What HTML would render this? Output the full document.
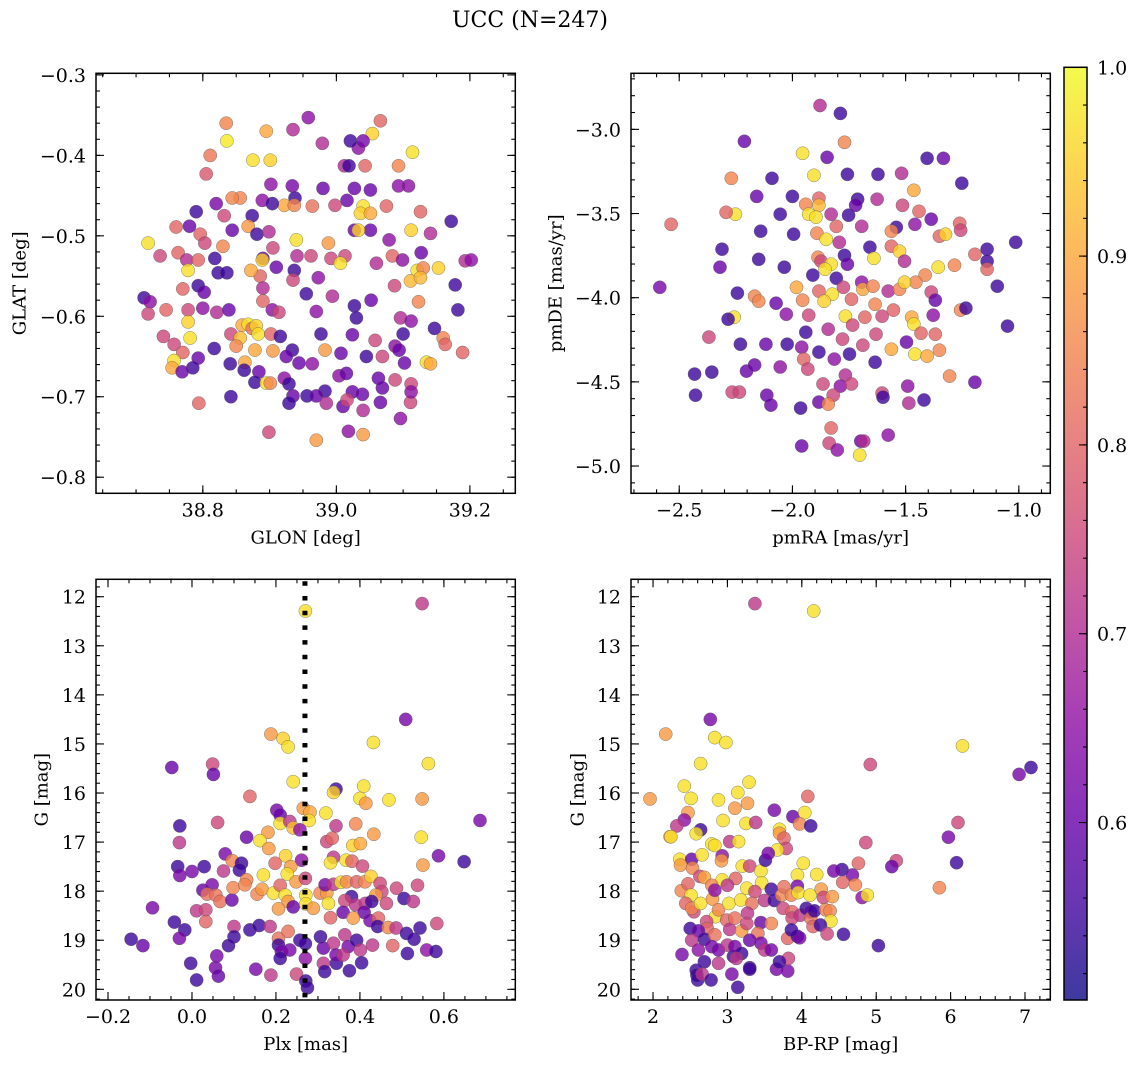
<!DOCTYPE html>
<html><head><meta charset="utf-8"><title>UCC (N=247)</title>
<style>
html,body{margin:0;padding:0;background:#fff;}
svg{display:block;font-family:"DejaVu Serif","Liberation Serif",serif;}
</style></head>
<body>
<svg id="fig" xmlns="http://www.w3.org/2000/svg" width="1136" height="1067" viewBox="0 0 1136 1067">
<rect width="1136" height="1067" fill="#fff"/>
<text x="530" y="27" font-size="22" text-anchor="middle">UCC (N=247)</text>
<defs>
<linearGradient id="cbgrad" x1="0" y1="1" x2="0" y2="0">
<stop offset="0" stop-color="#0d0887"/><stop offset="0.1" stop-color="#41049d"/><stop offset="0.2" stop-color="#6a00a8"/><stop offset="0.3" stop-color="#8f0da4"/><stop offset="0.4" stop-color="#b12a90"/><stop offset="0.5" stop-color="#cc4778"/><stop offset="0.6" stop-color="#e16462"/><stop offset="0.7" stop-color="#f2844b"/><stop offset="0.8" stop-color="#fca636"/><stop offset="0.9" stop-color="#fcce25"/><stop offset="1" stop-color="#f0f921"/>
</linearGradient>
</defs>
<g id="layer"></g>
</svg>
<script>
// ---- data: [x, y, membership probability] ----
const glonGlatProb = [
[38.958,-0.353,.65],[38.835,-0.360,.85],[38.895,-0.370,.9],[39.033,-0.391,.65],[39.066,-0.357,.8],[39.054,-0.373,.95],[39.021,-0.382,.55],[39.040,-0.382,.62],[38.836,-0.382,.98],[38.811,-0.400,.83],
[38.875,-0.406,.97],[38.901,-0.406,.95],[39.114,-0.396,.97],[38.935,-0.368,.7],[38.979,-0.385,.7],[39.012,-0.413,.7],[39.043,-0.413,.8],[39.093,-0.413,.85],[39.019,-0.413,.55],[38.805,-0.423,.78],
[38.902,-0.436,.65],[39.093,-0.438,.65],[39.108,-0.438,.65],[38.934,-0.438,.62],[38.980,-0.441,.6],[38.856,-0.453,.85],[38.844,-0.453,.85],[38.889,-0.456,.65],[38.820,-0.460,.62],[39.016,-0.456,.6],
[39.027,-0.441,.6],[39.051,-0.443,.6],[38.938,-0.453,.55],[38.922,-0.462,.9],[38.937,-0.462,.85],[38.964,-0.463,.82],[38.904,-0.460,.55],[38.998,-0.462,.75],[39.040,-0.463,.97],[39.036,-0.472,.95],
[39.051,-0.472,.9],[39.075,-0.463,.8],[39.126,-0.470,.8],[39.172,-0.482,.55],[38.790,-0.470,.55],[38.780,-0.488,.6],[38.760,-0.489,.8],[38.832,-0.475,.75],[38.874,-0.475,.55],[38.844,-0.493,.6],
[38.868,-0.488,.88],[38.796,-0.498,.8],[38.881,-0.498,.55],[38.899,-0.495,.7],[39.027,-0.493,.6],[39.051,-0.493,.6],[39.033,-0.493,.95],[39.112,-0.493,.95],[39.141,-0.497,.7],[38.718,-0.509,.97],
[38.803,-0.509,.75],[38.830,-0.513,.85],[38.940,-0.505,.97],[38.988,-0.509,.88],[39.079,-0.505,.65],[38.736,-0.525,.75],[38.763,-0.521,.8],[38.776,-0.530,.7],[38.793,-0.530,.8],[38.818,-0.528,.55],
[38.905,-0.515,.75],[38.890,-0.528,.6],[38.941,-0.525,.7],[38.962,-0.525,.75],[39.013,-0.525,.75],[38.992,-0.528,.75],[39.006,-0.534,.97],[39.060,-0.534,.7],[39.084,-0.525,.8],[39.099,-0.530,.65],
[39.127,-0.521,.6],[39.193,-0.531,.7],[38.778,-0.543,.97],[38.823,-0.546,.55],[38.836,-0.546,.55],[38.910,-0.539,.6],[38.937,-0.543,.55],[38.886,-0.550,.8],[38.889,-0.530,.95],[38.872,-0.543,.9],
[39.121,-0.543,.97],[39.130,-0.540,.85],[39.153,-0.540,.95],[39.202,-0.530,.65],[38.712,-0.577,.55],[38.721,-0.582,.65],[38.770,-0.566,.8],[38.793,-0.562,.55],[38.802,-0.570,.6],[38.890,-0.565,.7],
[38.935,-0.555,.75],[38.973,-0.552,.65],[38.955,-0.572,.55],[38.994,-0.575,.7],[39.052,-0.580,.6],[39.087,-0.562,.75],[39.111,-0.556,.92],[39.126,-0.552,.92],[39.178,-0.561,.55],[38.718,-0.597,.75],
[38.745,-0.592,.8],[38.778,-0.592,.75],[38.800,-0.590,.65],[38.821,-0.595,.7],[38.839,-0.592,.6],[38.890,-0.581,.8],[38.904,-0.592,.65],[38.914,-0.595,.75],[38.970,-0.594,.65],[39.123,-0.582,.85],
[39.027,-0.587,.55],[39.030,-0.602,.55],[39.096,-0.602,.7],[39.112,-0.606,.65],[39.147,-0.615,.55],[39.182,-0.592,.55],[38.778,-0.607,.95],[38.859,-0.611,.9],[38.868,-0.610,.97],[38.874,-0.615,.82],
[38.880,-0.612,.95],[38.842,-0.622,.75],[38.856,-0.627,.93],[38.883,-0.622,.97],[38.902,-0.622,.8],[38.916,-0.625,.55],[38.977,-0.622,.55],[39.024,-0.623,.6],[39.100,-0.622,.55],[39.058,-0.630,.75],
[38.741,-0.625,.75],[38.757,-0.635,.75],[38.781,-0.627,.97],[38.817,-0.640,.55],[38.850,-0.637,.85],[38.793,-0.652,.6],[38.785,-0.664,.55],[38.770,-0.645,.8],[38.757,-0.655,.97],[38.754,-0.664,.9],
[38.769,-0.669,.6],[38.878,-0.642,.9],[38.905,-0.643,.88],[38.934,-0.642,.55],[38.983,-0.642,.88],[39.007,-0.646,.6],[39.088,-0.637,.65],[39.094,-0.642,.6],[39.160,-0.627,.85],[39.163,-0.635,.8],
[39.189,-0.645,.8],[38.841,-0.659,.55],[38.863,-0.657,.9],[38.925,-0.650,.6],[38.944,-0.658,.6],[38.964,-0.659,.65],[39.045,-0.650,.55],[39.069,-0.650,.75],[39.102,-0.658,.6],[39.135,-0.657,.97],
[39.141,-0.659,.9],[38.862,-0.667,.55],[38.884,-0.669,.6],[38.922,-0.677,.65],[38.929,-0.684,.55],[38.878,-0.682,.55],[38.895,-0.683,.97],[38.901,-0.683,.85],[39.004,-0.674,.65],[39.015,-0.671,.6],
[39.063,-0.677,.6],[39.088,-0.679,.75],[39.112,-0.684,.75],[38.983,-0.693,.55],[38.935,-0.699,.6],[38.956,-0.699,.55],[38.970,-0.699,.6],[39.024,-0.694,.6],[39.039,-0.697,.6],[39.069,-0.689,.6],
[38.842,-0.700,.55],[38.794,-0.708,.8],[39.066,-0.707,.6],[39.111,-0.707,.75],[39.112,-0.694,.65],[38.985,-0.708,.7],[38.929,-0.708,.55],[39.010,-0.712,.6],[39.016,-0.704,.75],[39.040,-0.717,.7],
[38.899,-0.744,.75],[38.970,-0.754,.88],[39.018,-0.743,.65],[39.040,-0.747,.88],[39.096,-0.727,.65]
];
const pmraPmdeProb = [
[-1.878,-2.858,.7],[-1.788,-2.905,.55],[-1.770,-3.077,.85],[-2.212,-3.071,.6],[-1.955,-3.142,.97],[-1.847,-3.166,.6],[-1.622,-3.267,.55],[-1.757,-3.267,.55],[-1.905,-3.273,.97],[-1.405,-3.172,.55],
[-1.333,-3.172,.6],[-1.518,-3.261,.7],[-2.090,-3.291,.55],[-2.270,-3.291,.85],[-1.252,-3.320,.55],[-1.464,-3.362,.9],[-2.158,-3.398,.6],[-2.000,-3.398,.55],[-1.883,-3.409,.8],[-1.712,-3.415,.55],
[-1.626,-3.415,.7],[-1.941,-3.445,.85],[-1.829,-3.504,.7],[-1.883,-3.451,.92],[-1.514,-3.451,.75],[-1.441,-3.487,.8],[-2.054,-3.504,.55],[-2.252,-3.504,.97],[-2.293,-3.493,.8],[-1.928,-3.504,.97],
[-1.896,-3.522,.97],[-1.752,-3.510,.55],[-1.721,-3.451,.6],[-1.541,-3.582,.55],[-1.387,-3.534,.6],[-2.536,-3.564,.8],[-1.459,-3.564,.65],[-1.261,-3.558,.8],[-1.351,-3.635,.8],[-1.324,-3.623,.95],
[-1.257,-3.599,.75],[-2.140,-3.605,.55],[-1.995,-3.623,.55],[-1.892,-3.617,.85],[-1.806,-3.576,.8],[-1.694,-3.576,.7],[-1.851,-3.653,.97],[-1.793,-3.671,.7],[-1.563,-3.605,.85],[-1.563,-3.694,.8],
[-1.140,-3.712,.55],[-1.014,-3.671,.55],[-2.311,-3.712,.55],[-1.887,-3.760,.85],[-1.770,-3.748,.55],[-1.658,-3.700,.55],[-1.640,-3.766,.97],[-2.149,-3.772,.55],[-1.874,-3.783,.75],[-1.829,-3.801,.97],
[-1.757,-3.801,.6],[-1.527,-3.724,.95],[-1.505,-3.783,.7],[-1.140,-3.783,.55],[-1.194,-3.742,.8],[-2.036,-3.819,.55],[-1.856,-3.831,.97],[-2.320,-3.819,.6],[-1.140,-3.831,.8],[-1.356,-3.819,.97],
[-1.284,-3.807,.85],[-1.910,-3.866,.55],[-1.806,-3.884,.55],[-1.694,-3.908,.65],[-1.414,-3.866,.85],[-1.095,-3.932,.55],[-2.586,-3.938,.62],[-2.243,-3.973,.55],[-2.167,-3.991,.85],[-2.149,-4.021,.85],
[-1.982,-3.938,.9],[-1.883,-3.961,.8],[-1.775,-3.938,.75],[-1.824,-3.979,.97],[-1.689,-3.950,.9],[-1.644,-3.932,.85],[-1.577,-3.961,.7],[-1.527,-3.950,.85],[-1.455,-3.908,.85],[-1.387,-3.967,.75],
[-1.505,-3.908,.95],[-1.369,-4.015,.6],[-2.072,-4.033,.6],[-1.955,-4.015,.85],[-1.860,-4.021,.95],[-1.739,-4.009,.8],[-1.635,-4.039,.85],[-1.257,-4.074,.85],[-1.378,-4.104,.65],[-1.234,-4.062,.55],
[-2.257,-4.116,.97],[-2.284,-4.128,.55],[-2.027,-4.098,.65],[-1.928,-4.104,.75],[-1.766,-4.110,.97],[-1.680,-4.116,.8],[-1.604,-4.110,.75],[-1.554,-4.074,.8],[-1.473,-4.116,.9],[-1.050,-4.169,.55],
[-2.369,-4.234,.75],[-1.941,-4.205,.55],[-1.842,-4.187,.7],[-1.734,-4.163,.75],[-1.631,-4.217,.75],[-1.464,-4.157,.97],[-1.432,-4.211,.8],[-1.369,-4.217,.8],[-2.230,-4.276,.55],[-2.117,-4.276,.6],
[-2.023,-4.276,.55],[-1.959,-4.294,.65],[-1.883,-4.323,.55],[-1.779,-4.246,.75],[-1.689,-4.282,.75],[-1.563,-4.306,.9],[-1.496,-4.264,.6],[-1.351,-4.312,.85],[-1.459,-4.335,.97],[-1.405,-4.347,.9],
[-1.950,-4.365,.8],[-1.815,-4.365,.65],[-1.748,-4.335,.55],[-1.635,-4.383,.55],[-1.932,-4.424,.75],[-1.766,-4.460,.7],[-2.054,-4.412,.65],[-2.203,-4.436,.6],[-2.167,-4.400,.6],[-2.432,-4.454,.55],
[-2.356,-4.442,.55],[-1.306,-4.466,.85],[-1.194,-4.502,.6],[-1.865,-4.513,.75],[-1.788,-4.525,.65],[-1.491,-4.525,.65],[-1.604,-4.567,.75],[-2.266,-4.561,.75],[-2.234,-4.561,.75],[-2.428,-4.579,.55],
[-2.113,-4.579,.6],[-1.739,-4.513,.75],[-1.419,-4.608,.55],[-1.486,-4.626,.7],[-1.600,-4.591,.55],[-1.820,-4.579,.75],[-2.095,-4.638,.6],[-1.964,-4.656,.55],[-1.883,-4.620,.6],[-1.842,-4.632,.85],
[-1.829,-4.774,.8],[-1.838,-4.864,.75],[-1.698,-4.852,.6],[-1.685,-4.852,.7],[-1.577,-4.816,.65],[-1.959,-4.881,.6],[-1.802,-4.905,.65],[-1.703,-4.935,.97]
];
const plxGProb = [
[0.270,12.29,.97],[0.548,12.14,.72],[0.509,14.50,.62],[0.188,14.80,.88],[0.217,14.89,.95],[0.229,15.06,.97],[0.432,14.97,.97],[-0.048,15.48,.6],[0.049,15.41,.75],[0.051,15.62,.6],
[0.563,15.40,.97],[0.241,15.77,.97],[0.343,15.92,.55],[0.337,15.99,.95],[0.409,15.86,.97],[0.400,16.11,.97],[0.414,16.21,.88],[0.469,16.14,.97],[0.548,16.12,.88],[0.138,16.07,.8],
[0.686,16.56,.62],[-0.029,16.67,.55],[0.061,16.60,.75],[0.202,16.35,.62],[0.210,16.45,.6],[0.265,16.31,.88],[0.281,16.39,.9],[0.279,16.56,.97],[0.319,16.41,.97],[0.210,16.62,.97],
[0.233,16.58,.72],[0.241,16.71,.93],[0.257,16.75,.65],[0.181,16.80,.88],[0.343,16.67,.72],[0.390,16.63,.85],[0.433,16.84,.88],[-0.030,17.01,.72],[0.130,16.90,.6],[0.162,16.97,.97],
[0.183,17.13,.88],[0.321,16.99,.75],[0.334,16.92,.8],[0.383,17.07,.95],[0.401,17.03,.9],[0.546,16.90,.97],[0.079,17.24,.62],[0.223,17.28,.95],[0.261,17.37,.65],[0.337,17.31,.72],
[0.367,17.37,.97],[0.381,17.39,.8],[0.330,17.42,.97],[0.406,17.49,.75],[0.587,17.28,.62],[0.648,17.40,.55],[0.550,17.47,.88],[-0.034,17.50,.55],[-0.029,17.68,.62],[0.000,17.60,.62],
[0.029,17.50,.55],[0.075,17.59,.72],[0.096,17.38,.85],[0.118,17.43,.55],[0.113,17.57,.55],[0.198,17.43,.8],[0.235,17.50,.88],[0.170,17.67,.97],[0.227,17.65,.97],[0.248,17.81,.88],
[0.270,17.74,.75],[0.130,17.77,.85],[0.026,17.98,.6],[0.048,17.87,.62],[0.036,18.06,.82],[0.057,18.08,.82],[0.067,18.21,.82],[0.095,18.18,.6],[0.098,17.93,.85],[0.126,17.87,.85],
[0.155,18.06,.85],[0.167,17.96,.88],[0.194,18.04,.97],[0.210,17.88,.8],[0.222,18.08,.97],[0.229,18.21,.88],[0.206,18.36,.88],[0.241,18.32,.6],[0.271,18.08,.97],[0.271,18.26,.97],
[0.289,18.35,.88],[0.305,18.04,.85],[0.321,18.04,.88],[0.325,18.25,.97],[0.317,17.87,.62],[0.337,17.86,.72],[0.355,17.82,.97],[0.368,17.81,.85],[0.392,17.81,.8],[0.412,17.81,.85],
[0.426,17.70,.95],[0.448,17.84,.75],[0.452,18.01,.75],[0.438,18.08,.88],[0.487,17.94,.75],[0.537,17.88,.75],[0.505,18.15,.55],[0.527,18.21,.72],[0.380,18.11,.55],[0.364,18.19,.75],
[0.390,18.28,.72],[0.413,18.25,.72],[0.428,18.21,.55],[0.463,18.25,.75],[0.360,18.43,.6],[0.410,18.43,.6],[0.330,18.54,.8],[0.384,18.55,.88],[0.424,18.60,.62],[0.444,18.55,.8],
[0.442,18.72,.55],[0.467,18.74,.85],[0.486,18.75,.72],[0.583,18.66,.75],[0.543,18.75,.55],[0.011,18.40,.72],[0.033,18.38,.75],[0.033,18.62,.8],[-0.042,18.63,.55],[-0.017,18.79,.55],
[-0.030,18.96,.62],[-0.145,18.98,.55],[-0.117,19.11,.6],[-0.094,18.34,.62],[0.100,18.72,.72],[0.100,18.93,.55],[0.087,19.11,.55],[0.138,18.79,.55],[0.160,18.70,.55],[0.186,18.72,.72],
[0.206,18.96,.82],[0.229,18.82,.82],[0.206,19.10,.55],[0.213,19.23,.62],[0.233,19.20,.62],[0.210,19.37,.55],[0.257,19.00,.55],[0.270,19.07,.55],[0.270,19.37,.65],[0.306,18.93,.55],
[0.313,19.16,.6],[0.337,19.06,.72],[0.364,18.89,.72],[0.372,19.13,.62],[0.392,19.00,.55],[0.401,19.20,.72],[0.430,19.10,.72],[0.478,19.11,.8],[0.513,19.27,.55],[0.559,19.20,.65],
[0.581,19.23,.55],[0.511,18.86,.55],[0.529,18.98,.55],[-0.003,19.47,.55],[0.011,19.81,.55],[0.059,19.32,.62],[0.056,19.56,.62],[0.063,19.73,.6],[0.152,19.59,.62],[0.188,19.71,.72],
[0.249,19.69,.75],[0.271,19.83,.55],[0.275,19.97,.55],[0.313,19.47,.72],[0.316,19.64,.55],[0.344,19.47,.55],[0.375,19.62,.55],[0.404,19.46,.55],[0.343,19.30,.62],[0.360,19.30,.72]
];
const bprpGProb = [
[3.37,12.14,.72],[4.16,12.29,.97],[2.77,14.50,.62],[2.17,14.80,.88],[2.83,14.87,.97],[2.98,14.97,.97],[6.16,15.04,.97],[2.64,15.40,.97],[4.92,15.42,.75],[6.92,15.62,.62],
[7.08,15.48,.55],[2.42,15.86,.97],[3.29,15.78,.97],[1.96,16.12,.88],[2.51,16.11,.97],[2.88,16.14,.97],[3.14,15.99,.97],[3.27,16.21,.88],[3.10,16.31,.88],[4.08,16.07,.8],
[3.63,16.35,.62],[3.88,16.48,.6],[4.04,16.40,.97],[2.47,16.40,.88],[2.42,16.55,.65],[2.32,16.67,.72],[2.64,16.75,.55],[2.58,16.83,.97],[2.94,16.56,.97],[3.25,16.62,.97],
[3.38,16.60,.72],[3.97,16.63,.85],[4.12,16.67,.55],[2.23,16.89,.88],[2.24,16.89,.97],[3.70,16.74,.97],[3.70,16.82,.88],[3.76,16.92,.8],[3.79,17.13,.75],[2.79,17.04,.97],
[2.83,17.07,.97],[3.03,16.99,.72],[3.15,16.99,.97],[3.67,17.16,.97],[4.86,17.01,.75],[5.97,16.90,.62],[6.10,16.60,.75],[6.08,17.42,.55],[5.27,17.38,.75],[5.21,17.50,.6],
[4.76,17.43,.8],[4.54,17.56,.55],[4.43,17.59,.62],[4.68,17.67,.62],[4.55,17.82,.8],[4.72,17.87,.85],[5.85,17.93,.85],[2.36,17.35,.97],[2.52,17.35,.6],[2.66,17.26,.97],
[2.93,17.28,.65],[2.92,17.38,.88],[2.37,17.47,.88],[2.53,17.53,.85],[2.63,17.70,.75],[2.69,17.72,.9],[2.93,17.77,.97],[3.11,17.74,.8],[3.20,17.49,.97],[3.30,17.49,.75],
[3.45,17.59,.97],[3.46,17.83,.97],[3.51,17.37,.55],[3.55,17.23,.62],[3.94,17.67,.97],[4.02,17.43,.97],[4.20,17.66,.97],[2.38,17.99,.85],[2.47,17.85,.8],[2.51,18.08,.97],
[2.44,18.25,.8],[2.55,18.42,.75],[2.52,18.35,.85],[2.64,18.25,.97],[2.80,18.16,.88],[2.79,17.88,.85],[2.83,17.98,.65],[2.84,18.52,.97],[2.88,18.38,.85],[3.02,18.25,.97],
[3.00,17.88,.72],[3.18,18.18,.97],[3.26,17.94,.97],[3.37,18.01,.75],[3.33,18.25,.82],[3.27,18.45,.72],[3.50,18.19,.72],[3.59,17.96,.55],[3.63,18.19,.55],[3.73,18.08,.85],
[3.76,17.91,.82],[3.86,18.08,.85],[3.94,17.90,.62],[3.95,18.03,.97],[4.11,18.08,.97],[4.26,17.96,.88],[4.29,18.13,.75],[4.41,18.11,.88],[4.81,18.13,.65],[4.88,18.08,.97],
[3.75,18.35,.75],[3.87,18.42,.8],[3.87,18.55,.75],[3.98,18.49,.72],[4.06,18.35,.55],[4.12,18.42,.6],[4.12,18.55,.82],[4.17,18.40,.55],[4.32,18.38,.85],[4.38,18.40,.85],
[4.39,18.61,.97],[4.15,18.72,.8],[4.25,18.69,.55],[4.34,18.87,.75],[4.56,18.88,.55],[5.03,19.11,.55],[2.72,18.62,.75],[2.73,18.76,.8],[2.50,18.76,.55],[2.61,18.81,.6],
[2.52,19.00,.72],[2.69,18.98,.55],[2.83,18.89,.82],[2.99,18.59,.8],[3.03,18.78,.72],[3.19,18.81,.88],[3.10,18.55,.82],[3.26,18.66,.75],[3.45,18.64,.6],[3.59,18.66,.85],
[3.41,18.86,.82],[3.30,19.00,.6],[3.45,19.06,.62],[3.50,19.20,.72],[3.59,19.20,.62],[3.81,18.96,.8],[3.94,18.92,.55],[3.97,18.95,.62],[3.86,18.79,.55],[2.39,19.29,.62],
[2.61,19.20,.65],[2.79,19.13,.62],[2.88,19.20,.62],[3.00,19.10,.72],[3.08,19.33,.55],[3.10,19.13,.62],[3.19,19.27,.55],[3.12,19.37,.72],[2.88,19.47,.72],[2.69,19.44,.55],
[2.58,19.61,.55],[2.59,19.71,.55],[2.60,19.81,.55],[2.66,19.69,.72],[2.78,19.81,.55],[3.06,19.69,.62],[3.14,19.96,.55],[3.30,19.56,.55],[3.30,19.59,.55],[3.66,19.59,.62],
[3.81,19.63,.62],[3.82,19.37,.75],[3.70,19.44,.55]
];
// tick labels
const glonTicks = [38.8, 39.0, 39.2];
const glatTicks = [-0.8, -0.7, -0.6, -0.5, -0.4, -0.3];
const pmraTicks = [-2.5, -2.0, -1.5, -1.0];
const pmdeTicks = [-5.0, -4.5, -4.0, -3.5, -3.0];
const plxTicks = [-0.2, 0.0, 0.2, 0.4, 0.6];
const gTicks = [12, 13, 14, 15, 16, 17, 18, 19, 20];
const bprpTicks = [2, 3, 4, 5, 6, 7];
const cbarTicks = [0.6, 0.7, 0.8, 0.9, 1.0];
const plxMedian = [0.269];
const probRange = [0.506, 1.0];

const NS = 'http://www.w3.org/2000/svg';
const layer = document.getElementById('layer');
function mk(tag, attrs, parent) {
  const e = document.createElementNS(NS, tag);
  for (const k in attrs) e.setAttribute(k, attrs[k]);
  (parent || layer).appendChild(e);
  return e;
}
const stops = ['#0d0887','#41049d','#6a00a8','#8f0da4','#b12a90','#cc4778','#e16462','#f2844b','#fca636','#fcce25','#f0f921'];
function hex(c){return [parseInt(c.slice(1,3),16),parseInt(c.slice(3,5),16),parseInt(c.slice(5,7),16)];}
function plasma(p) {
  let t = (p - probRange[0]) / (probRange[1] - probRange[0]);
  t = Math.max(0, Math.min(1, t)) * 10;
  const i = Math.min(9, Math.floor(t)), f = t - i;
  const a = hex(stops[i]), b = hex(stops[i+1]);
  return 'rgb(' + a.map((v,k)=>Math.round(v+(b[k]-v)*f)).join(',') + ')';
}
function fmt(v, d) { const s = Math.abs(v).toFixed(d); return (v < -1e-9 ? '\u2212' : '') + s; }

const panels = [
  {name:'sky-panel', x0:96, x1:515.3, y0:73.3, y1:493.3, xd:[38.640,39.268], yd:[-0.298,-0.820],
   xt:glonTicks, xm:0.05, xdec:1, yt:glatTicks, ym:0.02, ydec:1, data:glonGlatProb,
   xl:'GLON [deg]', yl:'GLAT [deg]', ylx:20},
  {name:'proper-motion-panel', x0:631, x1:1050.3, y0:73.3, y1:493.3, xd:[-2.713,-0.861], yd:[-2.667,-5.162],
   xt:pmraTicks, xm:0.1, xdec:1, yt:pmdeTicks, ym:0.1, ydec:1, data:pmraPmdeProb,
   xl:'pmRA [mas/yr]', yl:'pmDE [mas/yr]', ylx:556},
  {name:'parallax-panel', x0:96, x1:515.3, y0:579.3, y1:1000, xd:[-0.2286,0.770], yd:[11.645,20.218],
   xt:plxTicks, xm:0.05, xdec:1, yt:gTicks, ym:0.2, ydec:0, data:plxGProb,
   xl:'Plx [mas]', yl:'G [mag]', ylx:42},
  {name:'cmd-panel', x0:631, x1:1050.3, y0:579.3, y1:1000, xd:[1.704,7.340], yd:[11.645,20.218],
   xt:bprpTicks, xm:0.2, xdec:0, yt:gTicks, ym:0.2, ydec:0, data:bprpGProb,
   xl:'BP-RP [mag]', yl:'G [mag]', ylx:578}
];

panels.forEach(P => {
  const g = mk('g', {});
  
  
  const sx = v => P.x0 + (v - P.xd[0]) / (P.xd[1] - P.xd[0]) * (P.x1 - P.x0);
  const sy = v => P.y0 + (v - P.yd[0]) / (P.yd[1] - P.yd[0]) * (P.y1 - P.y0);
  const clipId = 'clip-' + P.name;
  const cp = mk('clipPath', {id: clipId}, g);
  mk('rect', {x:P.x0, y:P.y0, width:P.x1-P.x0, height:P.y1-P.y0}, cp);
  const pts = mk('g', {'clip-path':'url(#'+clipId+')'}, g);
  
  
  P.data.forEach(d => {
    const c = mk('circle', {cx:sx(d[0]).toFixed(1), cy:sy(d[1]).toFixed(1), r:6.6, fill:plasma(d[2]),
      'fill-opacity':0.8, stroke:'#555', 'stroke-width':0.5, 'stroke-opacity':0.7}, pts);
    
    
  });
  if (P.name === 'parallax-panel') {
    plxMedian.forEach(v => {
      const ln = mk('line', {x1:sx(v), x2:sx(v), y1:P.y0+2, y2:P.y1, stroke:'#000', 'stroke-width':5, 'stroke-dasharray':'4.5 10.2'}, g);
      
      
    });
  }
  // ticks
  const tk = mk('g', {stroke:'#000', 'stroke-width':1.1}, g);
  
  
  const xlo = Math.min(P.xd[0],P.xd[1]), xhi = Math.max(P.xd[0],P.xd[1]);
  for (let k = Math.ceil(xlo/P.xm - 1e-6); k*P.xm <= xhi + 1e-9; k++) {
    const x = sx(k*P.xm);
    mk('line', {x1:x, x2:x, y1:P.y1, y2:P.y1-4}, tk);
    mk('line', {x1:x, x2:x, y1:P.y0, y2:P.y0+4}, tk);
  }
  const ylo = Math.min(P.yd[0],P.yd[1]), yhi = Math.max(P.yd[0],P.yd[1]);
  for (let k = Math.ceil(ylo/P.ym - 1e-6); k*P.ym <= yhi + 1e-9; k++) {
    const y = sy(k*P.ym);
    mk('line', {x1:P.x0, x2:P.x0+4, y1:y, y2:y}, tk);
    mk('line', {x1:P.x1, x2:P.x1-4, y1:y, y2:y}, tk);
  }
  P.xt.forEach(v => {
    const x = sx(v);
    mk('line', {x1:x, x2:x, y1:P.y1, y2:P.y1-8}, tk);
    mk('line', {x1:x, x2:x, y1:P.y0, y2:P.y0+8}, tk);
    const t = mk('text', {x:x, y:P.y1+23, 'font-size':19, 'text-anchor':'middle'}, g);
    t.textContent = fmt(v, P.xdec);
    
    
  });
  P.yt.forEach(v => {
    const y = sy(v);
    mk('line', {x1:P.x0, x2:P.x0+8, y1:y, y2:y}, tk);
    mk('line', {x1:P.x1, x2:P.x1-8, y1:y, y2:y}, tk);
    const t = mk('text', {x:P.x0-10, y:y+7, 'font-size':19, 'text-anchor':'end'}, g);
    t.textContent = fmt(v, P.ydec);
    
    
  });
  const fr = mk('rect', {x:P.x0, y:P.y0, width:P.x1-P.x0, height:P.y1-P.y0, fill:'none', stroke:'#000', 'stroke-width':1.5}, g);
  
  
  const xl = mk('text', {x:(P.x0+P.x1)/2, y:P.y1+50, 'font-size':18, 'text-anchor':'middle'}, g);
  xl.textContent = P.xl;
  
  
  const cy = (P.y0+P.y1)/2;
  const yl = mk('text', {x:P.ylx, y:cy, 'font-size':18, 'text-anchor':'middle', transform:'rotate(-90 '+P.ylx+' '+cy+')', 'dominant-baseline':'central'}, g);
  yl.textContent = P.yl;
  
  
});

// colorbar
(function(){
  const cx0 = 1064, cx1 = 1087, cy0 = 67.3, cy1 = 1000;
  const sc = v => cy1 - (v - probRange[0]) / (probRange[1] - probRange[0]) * (cy1 - cy0);
  const g = mk('g', {});
  
  
  mk('rect', {x:cx0, y:cy0, width:cx1-cx0, height:cy1-cy0, fill:'url(#cbgrad)', 'fill-opacity':0.8}, g);
  const tk = mk('g', {stroke:'#000', 'stroke-width':1.1}, g);
  for (let k = Math.ceil(probRange[0]/0.02); k*0.02 <= probRange[1] + 1e-9; k++) {
    const y = sc(k*0.02);
    mk('line', {x1:cx1, x2:cx1-4, y1:y, y2:y}, tk);
  }
  cbarTicks.forEach(v => {
    const y = sc(v);
    mk('line', {x1:cx1, x2:cx1-8, y1:y, y2:y}, tk);
    const t = mk('text', {x:cx1+10, y:y+7, 'font-size':19}, g);
    t.textContent = v.toFixed(1);
    
    
  });
  mk('rect', {x:cx0, y:cy0, width:cx1-cx0, height:cy1-cy0, fill:'none', stroke:'#000', 'stroke-width':1.5}, g);
})();
</script>
</body></html>
